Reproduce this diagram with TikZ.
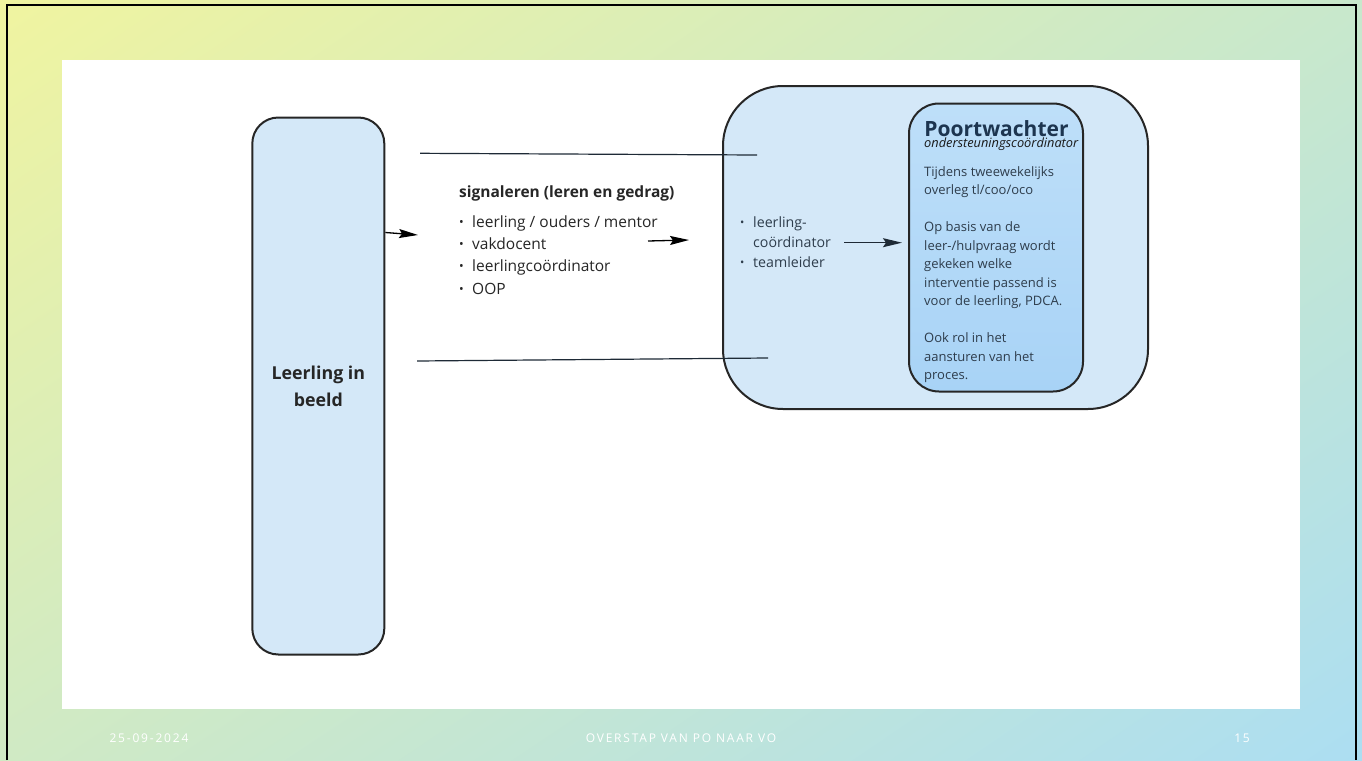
\documentclass[tikz,border=0pt]{standalone}
\usepackage{fontspec}
\setmainfont{Open Sans}
\newfontfamily\footfont[LetterSpace=15]{Open Sans}
\usetikzlibrary{arrows.meta,positioning,shadings}

\definecolor{boxblue}{HTML}{D4E8F8}
\definecolor{innertop}{HTML}{BEDFF9}
\definecolor{innerbot}{HTML}{A8D3F6}
\definecolor{navytext}{HTML}{1D3550}
\definecolor{bodytext}{HTML}{2E3D4C}
\definecolor{linegrey}{HTML}{1E2A36}
\definecolor{bgul}{RGB}{240,244,160}
\definecolor{bgur}{RGB}{200,232,204}
\definecolor{bgll}{RGB}{208,234,196}
\definecolor{bglr}{RGB}{172,222,242}

\newcommand{\blt}{\makebox[13pt][l]{\raisebox{1pt}{\scalebox{0.8}{•}}}}

\tikzset{
  roundbox/.style={draw=black!85, line width=2pt, fill=boxblue, inner sep=0pt},
  flowline/.style={linegrey, line width=1.2pt},
  flowarrow/.style={linegrey, line width=1.3pt, -{Stealth[length=19pt,width=9pt,inset=3pt]}},
  footer/.style={text=white, font=\footfont\fontsize{12}{14}\selectfont}
}

\begin{document}
\begin{tikzpicture}[x=1pt, y=-1pt]
    % background and white sheet
    \useasboundingbox (0,0) rectangle (1362,760) ;
    \shade [upper left=bgul, upper right=bgur, lower left=bgll, lower right=bglr]
        (0,0) rectangle (1362,760) ;
    \fill [white] (62,60) rectangle (1300,709) ;
    \draw [line width=2pt] (7,760) -- (7,5) -- (1356,5) -- (1356,760) ;

    % boxes
    \node [roundbox, rounded corners=26pt, minimum width=132pt, minimum height=537pt,
           font=\bfseries\fontsize{17.8}{27}\selectfont, text=black!85, align=center]
        (leerling) at (318.3,386) {Leerling in\\beeld} ;
    \node [roundbox, rounded corners=60pt, minimum width=425pt, minimum height=323pt]
        (groep) at (935.5,247.5) {} ;
    \node [roundbox, rounded corners=30pt, minimum width=174pt, minimum height=288pt,
           top color=innertop, bottom color=innerbot]
        (poort) at (996,247.5) {} ;

    % texts
    \node [anchor=north west, inner sep=0pt, text=black!85, align=left,
           font=\fontsize{15.5}{22.3}\selectfont]
        (signaleren) at (459,186) {\textbf{signaleren (leren en gedrag)}\\[7pt]
        \blt leerling / ouders / mentor\\
        \blt vakdocent\\
        \blt leerlingcoördinator\\
        \blt OOP} ;
    \node [anchor=north west, inner sep=0pt, text=bodytext, align=left,
           font=\fontsize{14.2}{19.7}\selectfont]
        (rollen) at (740,217) {\blt leerling-\\
        \hspace*{13pt}coördinator\\
        \blt teamleider} ;
    \node [anchor=north, inner sep=0pt, text=navytext,
           font=\bfseries\fontsize{21}{24}\selectfont]
        (titel) at (996.5,120) {Poortwachter} ;
    \node [anchor=north west, inner sep=0pt, text=black!90,
           font=\itshape\fontsize{12.8}{15}\selectfont]
        (sub) at (924,138) {ondersteuningscoördinator} ;
    \node [anchor=north west, inner sep=0pt, text=bodytext, align=left,
           font=\fontsize{13}{18.5}\selectfont]
        (uitleg) at (924,166) {Tijdens tweewekelijks\\
        overleg tl/coo/oco\\[18.5pt]
        Op basis van de\\
        leer-/hulpvraag wordt\\
        gekeken welke\\
        interventie passend is\\
        voor de leerling, PDCA.\\[18.5pt]
        Ook rol in het\\
        aansturen van het\\
        proces.} ;

    % connectors
    \coordinate (boven1) at (420,153.3) ;
    \coordinate (boven2) at (757,155) ;
    \coordinate (onder1) at (417,361) ;
    \coordinate (onder2) at (768,358) ;
    \draw [flowline] (boven1) -- (boven2) ;
    \draw [flowline] (onder1) -- (onder2) ;
    \coordinate (pijl1) at (418,235) ;
    \draw [flowarrow, black] (leerling.east |- 0,232.5) -- (pijl1) ;
    \coordinate (pijl2a) at (648,241) ;
    \coordinate (pijl2b) at (689,240) ;
    \draw [flowarrow, black] (pijl2a) -- (pijl2b) ;
    \coordinate (pijl3) at (844,242.7) ;
    \draw [flowarrow, shorten >=6pt] (pijl3) -- (poort.west |- pijl3) ;

    % footer
    \node [footer] (datum) at (149,738) {25-09-2024} ;
    \node [footer] (titelvoet) at (681,738) {OVERSTAP VAN PO NAAR VO} ;
    \node [footer] (pagina) at (1242,738) {15} ;
\end{tikzpicture}
\end{document}
